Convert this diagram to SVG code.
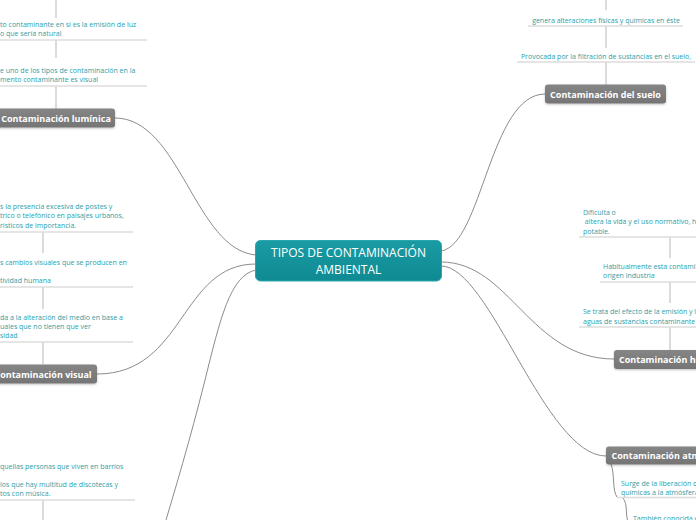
<svg xmlns="http://www.w3.org/2000/svg" width="696" height="520" viewBox="0 0 696 520">
<defs>
<linearGradient id="tg" x1="0" y1="0" x2="0" y2="1"><stop offset="0" stop-color="#1a9ba4"/><stop offset="1" stop-color="#0f8a92"/></linearGradient>
<linearGradient id="gg" x1="0" y1="0" x2="0" y2="1"><stop offset="0" stop-color="#858585"/><stop offset="1" stop-color="#757575"/></linearGradient>
<filter id="sh" x="-10%" y="-20%" width="120%" height="150%"><feDropShadow dx="0" dy="1" stdDeviation="0.8" flood-color="#000" flood-opacity="0.25"/></filter>
</defs>
<style>
.lk{fill:none;stroke:#8c8c8c;stroke-width:1}
.stem{fill:none;stroke:#d0d0d0;stroke-width:1.5}
.ul{stroke:#dcdcdc;stroke-width:1.5}
.t{font-family:"Open Sans","DejaVu Sans",sans-serif;font-size:7px;fill:#2aa0a8}
.tm{text-anchor:middle}
.gr{fill:url(#gg);filter:url(#sh)}
.gt{font-family:"Open Sans","DejaVu Sans",sans-serif;font-size:9px;font-weight:bold;fill:#ffffff;text-anchor:middle}
.ct{font-family:"Open Sans","DejaVu Sans",sans-serif;font-size:12px;fill:#ffffff;text-anchor:middle}
</style>
<rect width="696" height="520" fill="#ffffff"/>
<g id="connectors">
<path class="lk" d="M115,118 C180,118 195,250 256,255"/>
<path class="lk" d="M97,374 C185,374 180,264 256,264"/>
<path class="lk" d="M256,270 C230,275 220,320 205,380 C190,440 175,490 160,540"/>
<path class="lk" d="M441,251 C482,245 490,94 545,94"/>
<path class="lk" d="M441,262 C510,262 530,359 614,359"/>
<path class="lk" d="M441,266 C490,266 545,456 606,456"/>
<path class="stem" d="M56,0 V18 M56,40 V58 M56,86 V109"/>
<path class="stem" d="M43,232 V253 M43,287 V309 M43,342 V364 M43,500 V520"/>
<path class="stem" d="M606,0 V10 M606,26 V48 M606,62 V85"/>
<path class="stem" d="M670,237 V258 M670,282 V303 M670,327 V350"/>
<path class="lk" d="M611,464 C615,475 612,490 617,497"/>
<path class="lk" d="M623,498 C628,505 625,512 628,522"/>
</g>
<g id="central">
<rect x="255.5" y="240.5" width="186" height="40.5" rx="5" fill="url(#tg)" stroke="#2aa6ae" stroke-width="1"/>
<text class="ct" x="348.5" y="257">TIPOS DE CONTAMINACIÓN</text>
<text class="ct" x="348.5" y="274">AMBIENTAL</text>
</g>
<g id="luminica">
<rect class="gr" x="-4" y="108.5" width="119" height="19" rx="3"/>
<text class="gt" x="56" y="121.5">Contaminación lumínica</text>
</g>
<g id="lum1">
<text class="t" x="0" y="26.8">to contaminante en si es la emisión de luz</text>
<text class="t" x="0" y="36.2">o que sería natural</text>
<line class="ul" x1="0" y1="40" x2="147" y2="40"/>
</g>
<g id="lum2">
<text class="t" x="0" y="72.5">e uno de los tipos de contaminación en la</text>
<text class="t" x="0" y="82">mento contaminante es visual</text>
<line class="ul" x1="0" y1="86" x2="147" y2="86"/>
</g>
<g id="visual">
<rect class="gr" x="-11" y="364.5" width="108" height="19" rx="3"/>
<text class="gt" x="43" y="377.5">Contaminación visual</text>
</g>
<g id="vis1">
<text class="t" x="0" y="208.5">s la presencia excesiva de postes y</text>
<text class="t" x="0" y="218">trico o telefónico en paisajes urbanos,</text>
<text class="t" x="0" y="227.5">rísticos de importancia.</text>
<line class="ul" x1="0" y1="232" x2="133" y2="232"/>
</g>
<g id="vis2">
<text class="t" x="0" y="264.5">s cambios visuales que se producen en</text>
<text class="t" x="0" y="283">tividad humana</text>
<line class="ul" x1="0" y1="287" x2="133" y2="287"/>
</g>
<g id="vis3">
<text class="t" x="0" y="319.5">da a la alteración del medio en base a</text>
<text class="t" x="0" y="329">uales que no tienen que ver</text>
<text class="t" x="0" y="338">sidad</text>
<line class="ul" x1="0" y1="342" x2="133" y2="342"/>
</g>
<g id="acu1">
<text class="t" x="0" y="468.5">quellas personas que viven en barrios</text>
<text class="t" x="0" y="486.5">los que hay multitud de discotecas y</text>
<text class="t" x="0" y="496">tos con música.</text>
<line class="ul" x1="0" y1="500" x2="135" y2="500"/>
</g>
<g id="suelo">
<rect class="gr" x="545" y="84.5" width="121" height="19" rx="3"/>
<text class="gt" x="605.5" y="97.5">Contaminación del suelo</text>
</g>
<g id="suelo1">
<text class="t tm" x="606" y="22.5">genera alteraciones físicas y químicas en éste</text>
<line class="ul" x1="528" y1="26" x2="683" y2="26"/>
</g>
<g id="suelo2">
<text class="t tm" x="606" y="58.5">Provocada por la filtración de sustancias en el suelo,</text>
<line class="ul" x1="517" y1="62" x2="695" y2="62"/>
</g>
<g id="hidrica">
<rect class="gr" x="614" y="350" width="112" height="19" rx="3"/>
<text class="gt" x="619" y="363" style="text-anchor:start">Contaminación hídrica</text>
</g>
<g id="hid1">
<text class="t" x="583" y="214.5">Dificulta o</text>
<text class="t" x="583" y="223.5" xml:space="preserve"> altera la vida y el uso normativo, h</text>
<text class="t" x="583" y="233.5">potable.</text>
<line class="ul" x1="579" y1="237" x2="696" y2="237"/>
</g>
<g id="hid2">
<text class="t" x="603" y="268.5">Habitualmente esta contami</text>
<text class="t" x="603" y="277.5">origen industria</text>
<line class="ul" x1="600" y1="282" x2="696" y2="282"/>
</g>
<g id="hid3">
<text class="t" x="583" y="313.5">Se trata del efecto de la emisión y l</text>
<text class="t" x="583" y="323.5">aguas de sustancias contaminante</text>
<line class="ul" x1="579" y1="327" x2="696" y2="327"/>
</g>
<g id="atmosferica">
<rect class="gr" x="606" y="446.5" width="134" height="18" rx="3"/>
<text class="gt" x="611.5" y="459" style="text-anchor:start">Contaminación atmosférica</text>
</g>
<g id="atm1">
<text class="t" x="621" y="485.5">Surge de la liberación d</text>
<text class="t" x="621" y="494.5">químicas a la atmósfera</text>
<line class="ul" x1="617" y1="497.5" x2="696" y2="497.5"/>
</g>
<g id="atm2">
<text class="t" x="633" y="520.5">También conocida c</text>
</g>
</svg>
